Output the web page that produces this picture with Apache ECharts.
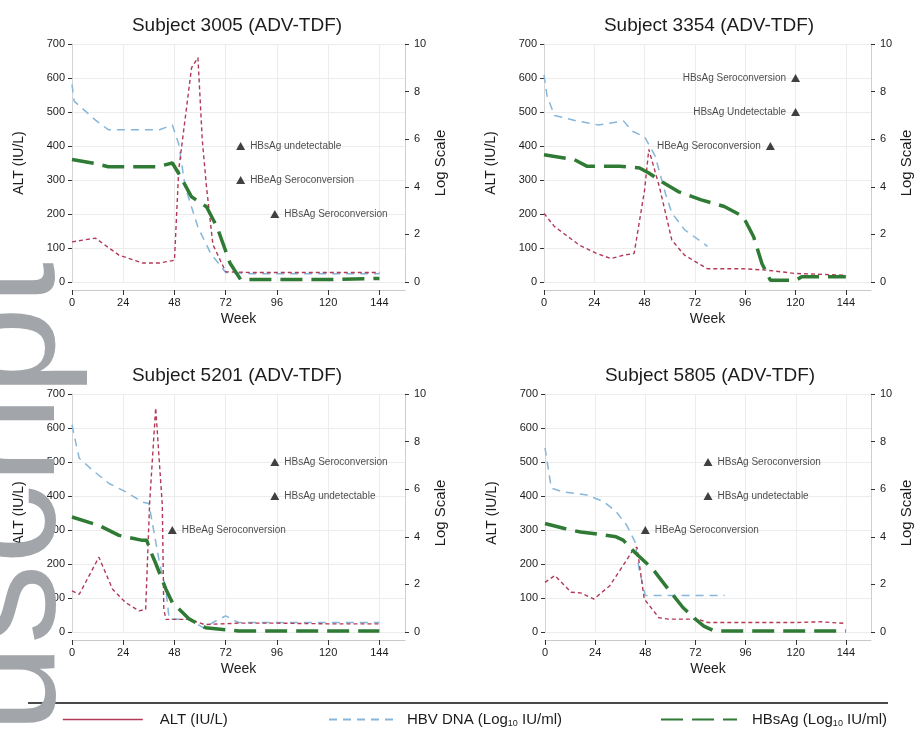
<!DOCTYPE html>
<html>
<head>
<meta charset="utf-8">
<script src="https://cdn.jsdelivr.net/npm/echarts@6/dist/echarts.min.js"></script>
<style>
  html, body { margin: 0; padding: 0; background: #fff; }
  #chart { width: 915px; height: 734px; }
</style>
</head>
<body>
<div id="chart"></div>
<script>
// ---- data: weeks on treatment vs. ALT (IU/L) and log10 markers ----
const weekTicks = [0, 24, 48, 72, 96, 120, 144];
const altTicks = [0, 100, 200, 300, 400, 500, 600, 700];
const logTicks = [0, 2, 4, 6, 8, 10];

const subjects = ['Subject 3005 (ADV-TDF)', 'Subject 3354 (ADV-TDF)', 'Subject 5201 (ADV-TDF)', 'Subject 5805 (ADV-TDF)'];

// Subject 3005
const alt3005 = [[0,118],[11,129],[22,79],[33,56],[41,56],[48,64],[50,330],[56,630],[59,660],[61,420],[63,280],[66,110],[72,30],[84,28],[96,28],[108,28],[120,28],[132,28],[144,28]];
const dna3005 = [[0,8.3],[1,7.6],[11,6.8],[17,6.4],[24,6.4],[41,6.4],[47,6.6],[50,5.8],[53,4.0],[59,2.3],[65,1.2],[72,0.4],[84,0.35],[96,0.35],[108,0.35],[120,0.35],[132,0.35],[144,0.35]];
const hbs3005 = [[0,5.15],[11,4.98],[17,4.84],[40,4.84],[47,5.0],[50,4.56],[56,3.58],[63,3.16],[68,2.3],[74,0.8],[79,0.1],[96,0.1],[120,0.1],[144,0.15]];
const evt3005 = [[79,400,'HBsAg undetectable','right'],[79,300,'HBeAg Seroconversion','right'],[95,200,'HBsAg Seroconversion','right']];

// Subject 3354
const alt3354 = [[0,202],[5,163],[17,108],[25,84],[32,69],[38,79],[43,84],[48,271],[50,390],[55,281],[61,123],[67,79],[78,39],[95,39],[106,35],[120,25],[144,20]];
const dna3354 = [[0,8.7],[1.5,7.8],[5,7.0],[16,6.76],[26,6.6],[38,6.76],[42,6.34],[48,6.1],[53,5.3],[58,3.7],[61,2.9],[67,2.2],[78,1.5]];
const hbs3354 = [[0,5.35],[14.5,5.14],[20.6,4.86],[36,4.86],[45.6,4.79],[50,4.58],[56.4,4.2],[64,3.8],[75,3.45],[86,3.17],[95,2.75],[100,1.9],[104,0.77],[108,0.07],[120,0.07],[123,0.22],[144,0.22]];
const evt3354 = [[120,600,'HBsAg Seroconversion','left'],[120,500,'HBsAg Undetectable','left'],[108,400,'HBeAg Seroconversion','left']];

// Subject 5201
const alt5201 = [[0,121],[3.4,111],[12.6,220],[19,126],[25,87],[31.4,62],[34.5,67],[36.4,383],[39.2,659],[42.3,373],[43,67],[44,37],[55,37],[62,22],[78,26],[96,26],[120,24],[144,24]];
const dna5201 = [[0,8.7],[2,7.86],[3.4,7.3],[9.6,6.8],[17.4,6.24],[25,5.9],[33,5.46],[36,5.4],[41,2.9],[44,1.8],[45.5,0.54],[55,0.54],[62,0.15],[66,0.4],[72,0.68],[78,0.4],[90,0.4],[144,0.4]];
const hbs5201 = [[0,4.83],[12.6,4.48],[22,4.06],[33,3.85],[35,3.85],[37,3.35],[39,2.93],[44,1.8],[47,1.24],[55,0.54],[62.6,0.18],[78,0.04],[144,0.04]];
const evt5201 = [[95,500,'HBsAg Seroconversion','right'],[95,400,'HBsAg undetectable','right'],[47,300,'HBeAg Seroconversion','right']];

// Subject 5805
const alt5805 = [[0,146],[4.7,166],[12.5,117],[17,115],[23.4,97],[31,136],[37.4,196],[42,240],[44,250],[45,206],[47.5,97],[54.5,42],[59,38],[73,38],[78,28],[96,28],[120,28],[132,30],[144,25]];
const dna5805 = [[0,7.74],[3,6.05],[8,5.9],[20,5.76],[28,5.48],[34,5.06],[39,4.5],[43,3.8],[45,2.66],[48,1.53],[60,1.53],[72,1.53],[86,1.53]];
const hbs5805 = [[0,4.56],[9.3,4.35],[17,4.2],[23,4.14],[34,4.0],[37.4,3.86],[42.8,3.36],[51.4,2.66],[59,1.8],[66,1.03],[72,0.54],[76,0.25],[81,0.04],[144,0.04]];
const evt5805 = [[78,500,'HBsAg Seroconversion','right'],[78,400,'HBsAg undetectable','right'],[48,300,'HBeAg Seroconversion','right']];

const altSeries = [alt3005, alt3354, alt5201, alt5805];
const dnaSeries = [dna3005, dna3354, dna5201, dna5805];
const hbsSeries = [hbs3005, hbs3354, hbs5201, hbs5805];
const events = [evt3005, evt3354, evt5201, evt5805];

const NAME_ALT = 'ALT (IU/L)';
const NAME_DNA = 'HBV DNA (Log10 IU/ml)';
const NAME_HBS = 'HBsAg (Log10 IU/ml)';

// ---- layout & styling ----
const FONT = '"Liberation Sans", Arial, Helvetica, sans-serif';
const panels = [{ left: 72, top: 44 }, { left: 544, top: 44 }, { left: 72, top: 394 }, { left: 545, top: 394 }];
const PW = 333, PH = 238;
const C_ALT = '#b23a58', C_DNA = '#86b6da', C_HBS = '#2f7a34';
const TXT = '#1c1c1c';

const grid = [], xAxis = [], yAxis = [], title = [], series = [];
panels.forEach((p, i) => {
  grid.push({ left: p.left, top: p.top, width: PW, height: PH, containLabel: false });
  title.push({
    text: subjects[i], left: p.left + 160, top: p.top - 33, textAlign: 'center',
    textStyle: { fontFamily: FONT, fontSize: 19, fontWeight: 'normal', color: TXT }
  });
  xAxis.push({
    gridIndex: i, type: 'value', min: 0, max: 156, interval: 24, offset: 8,
    name: 'Week', nameLocation: 'middle', nameGap: 22,
    nameTextStyle: { fontFamily: FONT, fontSize: 14, color: TXT },
    axisLine: { onZero: false, lineStyle: { color: '#c9c9c9', width: 1 } },
    axisTick: { length: 5, lineStyle: { color: '#333' }, customValues: weekTicks },
    axisLabel: { fontFamily: FONT, fontSize: 11, color: TXT, margin: 7, customValues: weekTicks,
      formatter: v => String(v) },
    splitLine: { show: true, lineStyle: { color: '#ececec' } }
  });
  yAxis.push({
    gridIndex: i, type: 'value', min: 0, max: 700, interval: 100, position: 'left',
    name: NAME_ALT, nameLocation: 'middle', nameGap: 46, nameRotate: 90,
    nameTextStyle: { fontFamily: FONT, fontSize: 14, color: TXT },
    axisLine: { show: true, lineStyle: { color: '#d4d4d4' } },
    axisTick: { show: true, length: 4, lineStyle: { color: '#333' } },
    axisLabel: { fontFamily: FONT, fontSize: 11, color: TXT, margin: 7,
      formatter: v => altTicks.includes(v) ? String(v) : '' },
    splitLine: { show: true, lineStyle: { color: '#ececec' } }
  });
  yAxis.push({
    gridIndex: i, type: 'value', min: 0, max: 10, interval: 2, position: 'right',
    name: 'Log Scale', nameLocation: 'middle', nameGap: 28, nameRotate: 90,
    nameTextStyle: { fontFamily: FONT, fontSize: 15, color: TXT },
    axisLine: { show: true, lineStyle: { color: '#cfcfcf' } },
    axisTick: { show: true, length: 4, lineStyle: { color: '#333' } },
    axisLabel: { fontFamily: FONT, fontSize: 11, color: TXT, margin: 9,
      formatter: v => logTicks.includes(v) ? String(v) : '' },
    splitLine: { show: false }
  });

  series.push({
    name: NAME_ALT, type: 'line', xAxisIndex: i, yAxisIndex: 2 * i,
    data: altSeries[i], symbol: 'none', z: 3,
    lineStyle: { color: C_ALT, width: 1.4, type: [4, 3] }, itemStyle: { color: C_ALT }
  });
  series.push({
    name: NAME_DNA, type: 'line', xAxisIndex: i, yAxisIndex: 2 * i + 1,
    data: dnaSeries[i], symbol: 'none', z: 2,
    lineStyle: { color: C_DNA, width: 1.5, type: [8, 6] }, itemStyle: { color: C_DNA }
  });
  series.push({
    name: NAME_HBS, type: 'line', xAxisIndex: i, yAxisIndex: 2 * i + 1,
    data: hbsSeries[i], symbol: 'none', z: 4,
    lineStyle: { color: C_HBS, width: 3.5, type: [22, 9] }, itemStyle: { color: C_HBS }
  });
  series.push({
    name: 'events', type: 'scatter', xAxisIndex: i, yAxisIndex: 2 * i,
    symbol: 'triangle', symbolSize: [9, 8], z: 5,
    itemStyle: { color: '#111' },
    label: { show: true, formatter: '{b}', fontFamily: FONT, fontSize: 10, color: TXT, distance: 5 },
    data: events[i].map(e => ({ name: e[2], value: [e[0], e[1]], label: { position: e[3] } }))
  });
});

const legendText = { fontFamily: FONT, fontSize: 15, color: TXT,
  rich: { sub: { fontFamily: FONT, fontSize: 9, color: TXT, padding: [8, 0, 0, 0] } } };
const subFmt = n => n.replace('Log10', 'Log{sub|10}');
const legendBase = { top: 712, padding: 0, itemHeight: 14, itemStyle: { opacity: 0 } };

const option = {
  animation: false,
  backgroundColor: '#fff',
  textStyle: { fontFamily: FONT },
  title, grid, xAxis, yAxis, series,
  legend: [
    Object.assign({ data: [NAME_ALT], left: 62, itemWidth: 80,
      lineStyle: { type: 'solid', width: 1.6 }, textStyle: Object.assign({ padding: [0, 0, 0, 12] }, legendText) }, legendBase),
    Object.assign({ data: [NAME_DNA], left: 328, itemWidth: 68, formatter: subFmt,
      textStyle: Object.assign({ padding: [0, 0, 0, 5] }, legendText) }, legendBase),
    Object.assign({ data: [NAME_HBS], left: 660, itemWidth: 76, formatter: subFmt,
      textStyle: Object.assign({ padding: [0, 0, 0, 10] }, legendText) }, legendBase)
  ],
  graphic: [
    { type: 'line', shape: { x1: 28, y1: 703, x2: 888, y2: 703 },
      style: { stroke: '#4a4a4a', lineWidth: 2 }, z: 10 },
    { type: 'text', x: 10, y: 262, rotation: Math.PI / 2, z: 100, silent: true,
      style: { text: 'Author Manuscript', font: '160px "Liberation Sans", Arial, sans-serif',
        fill: '#a2a6aa', align: 'right', verticalAlign: 'middle' } }
  ]
};

const chart = echarts.init(document.getElementById('chart'), null, { renderer: 'canvas' });
chart.setOption(option);
</script>
</body>
</html>
